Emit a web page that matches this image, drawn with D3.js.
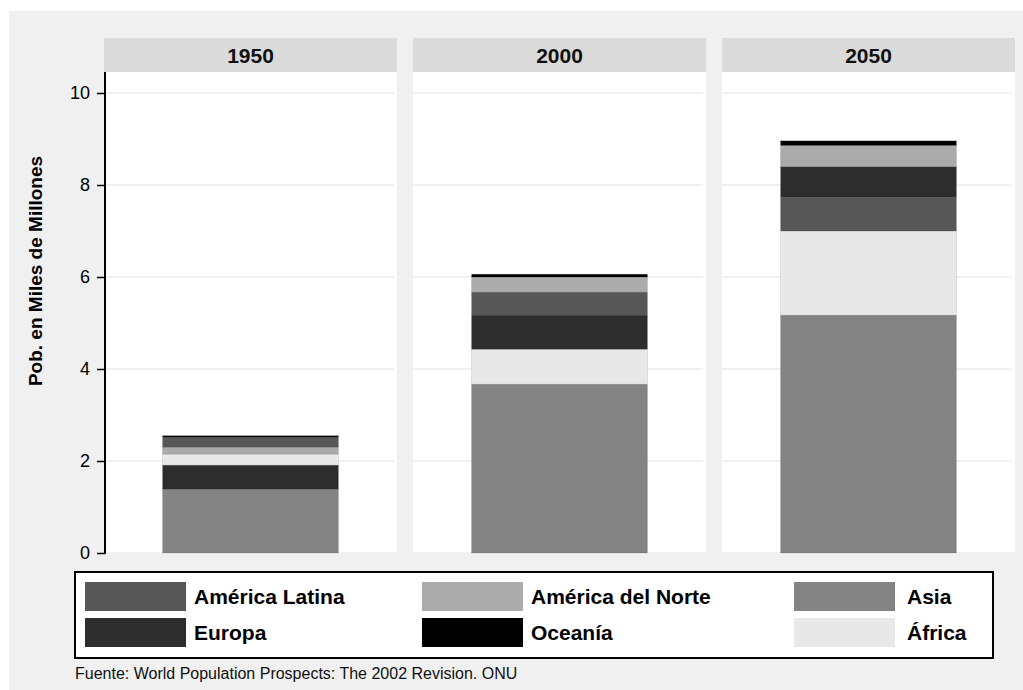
<!DOCTYPE html>
<html><head><meta charset="utf-8">
<script src="https://cdn.jsdelivr.net/npm/d3@7"></script>
<style>body{margin:0;background:#fff;} text{font-family:"Liberation Sans",Arial,sans-serif;}</style>
</head><body>
<svg id="c" width="1023" height="690"></svg>
<script>
const years = ["1950", "2000", "2050"];
const seriesNames = ["América Latina", "América del Norte", "Asia", "Europa", "Oceanía", "África"];
const latina  = [0.22, 0.50, 0.73];
const norte   = [0.15, 0.33, 0.46];
const asia    = [1.39, 3.67, 5.17];
const europa  = [0.52, 0.74, 0.67];
const oceania = [0.03, 0.06, 0.10];
const africa  = [0.24, 0.76, 1.83];
const stackOrder = [
  ["Asia", "Europa", "África", "América del Norte", "América Latina", "Oceanía"],
  ["Asia", "África", "Europa", "América Latina", "América del Norte", "Oceanía"],
  ["Asia", "África", "América Latina", "Europa", "América del Norte", "Oceanía"]
];
const yTicks = [0, 2, 4, 6, 8, 10];
const yLabel = "Pob. en Miles de Millones";
const source = "Fuente: World Population Prospects: The 2002 Revision. ONU";

const values = {"América Latina": latina, "América del Norte": norte, "Asia": asia,
  "Europa": europa, "Oceanía": oceania, "África": africa};
const colors = {"América Latina": "#575757", "América del Norte": "#ababab", "Asia": "#838383",
  "Europa": "#2d2d2d", "Oceanía": "#000000", "África": "#e8e8e8"};

const svg = d3.select("#c");
svg.append("rect").attr("x", 9).attr("y", 11).attr("width", 1014).attr("height", 679).attr("fill", "#f0f0f0");

const panelTop = 72, panelBottom = 552, stripTop = 38;
const fx = d3.scaleBand().domain(years).range([104, 1015]).paddingInner(16 / 309);
const y = d3.scaleLinear().domain([0, 10]).range([553, 93]);

years.forEach((yr, i) => {
  const px = fx(yr), pw = fx.bandwidth();
  const g = svg.append("g");
  g.append("rect").attr("x", px).attr("y", stripTop).attr("width", pw).attr("height", panelTop - stripTop).attr("fill", "#dadada");
  g.append("text").attr("x", px + pw / 2).attr("y", 63).attr("text-anchor", "middle")
    .attr("font-size", 21).attr("font-weight", "bold").attr("fill", "#111").text(yr);
  g.append("rect").attr("x", px).attr("y", panelTop).attr("width", pw).attr("height", panelBottom - panelTop).attr("fill", "#fff");
  g.selectAll("line.grid").data(yTicks.filter(t => t > 0)).join("line")
    .attr("x1", px).attr("x2", px + pw - 3).attr("y1", d => y(d)).attr("y2", d => y(d))
    .attr("stroke", "#ebebeb").attr("stroke-width", 1.5);
  const xb = d3.scaleBand().domain([yr]).range([px, px + pw]).paddingInner(0).paddingOuter(0.333);
  let cum = 0;
  const segs = stackOrder[i].map(name => {
    const v = values[name][i];
    const s = {name, y0: cum, y1: cum + v};
    cum += v;
    return s;
  });
  g.selectAll("rect.seg").data(segs).join("rect")
    .attr("x", xb(yr)).attr("width", xb.bandwidth())
    .attr("y", d => y(d.y1)).attr("height", d => y(d.y0) - y(d.y1))
    .attr("fill", d => colors[d.name])
    .attr("stroke", "rgba(0,0,0,0.12)").attr("stroke-width", 0.8);
});

// y axis
const axisG = svg.append("g").attr("transform", "translate(105,0)")
  .call(d3.axisLeft(y).tickValues(yTicks).tickSize(8).tickPadding(7).tickFormat(d3.format("d")));
axisG.select(".domain").remove();
axisG.selectAll(".tick line").attr("stroke", "#000").attr("stroke-width", 1.5);
axisG.selectAll(".tick text").attr("font-size", 18).attr("fill", "#000").attr("font-family", "Liberation Sans, Arial, sans-serif");
svg.append("line").attr("x1", 105).attr("x2", 105).attr("y1", panelTop).attr("y2", y(0) + 0.75)
  .attr("stroke", "#000").attr("stroke-width", 2);

svg.append("text").attr("transform", "translate(42,271) rotate(-90)").attr("text-anchor", "middle")
  .attr("font-size", 19).attr("font-weight", "bold").attr("fill", "#000").text(yLabel);

// legend
svg.append("rect").attr("x", 75).attr("y", 572).attr("width", 918).attr("height", 86)
  .attr("fill", "#fff").attr("stroke", "#000").attr("stroke-width", 2);
const legendCols = [85, 422, 794];
const legendTextX = [194, 531, 907];
const legendRows = [582, 618];
seriesNames.forEach((name, k) => {
  const col = k % 3, row = Math.floor(k / 3);
  svg.append("rect").attr("x", legendCols[col]).attr("y", legendRows[row]).attr("width", 101).attr("height", 29)
    .attr("fill", colors[name]);
  svg.append("text").attr("x", legendTextX[col]).attr("y", legendRows[row] + 22)
    .attr("font-size", 21).attr("font-weight", "bold").attr("fill", "#000").text(name);
});

svg.append("text").attr("x", 75).attr("y", 679).attr("font-size", 16).attr("fill", "#111").text(source);
</script>
</body></html>
